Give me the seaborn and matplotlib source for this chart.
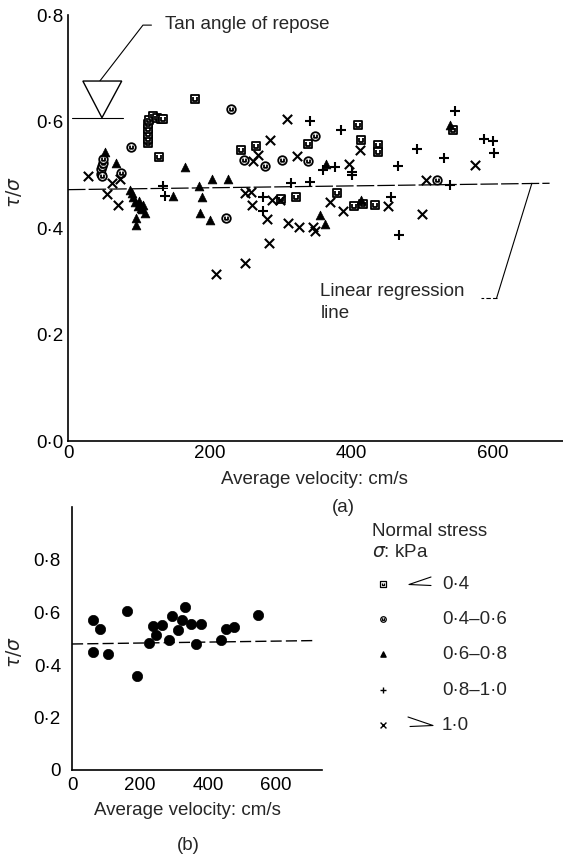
import matplotlib
matplotlib.use("Agg")
import matplotlib.pyplot as plt
import seaborn as sns
import numpy as np
from matplotlib.path import Path

# ---------------- data: panel (a) ----------------
sq_x = [113, 113, 113, 113, 113, 115, 120, 126, 131, 135, 129, 179, 244, 266, 301, 323, 339, 380, 404, 417, 434, 410, 415, 439, 439, 545]
sq_y = [0.560, 0.568, 0.577, 0.586, 0.595, 0.603, 0.610, 0.607, 0.605, 0.604, 0.534, 0.642, 0.547, 0.554, 0.455, 0.459, 0.557, 0.466, 0.441, 0.445, 0.443, 0.593, 0.565, 0.555, 0.542, 0.584]

ci_x = [46, 47, 48, 49, 50, 48, 89, 75, 223, 230, 249, 279, 303, 339, 349, 522]
ci_y = [0.502, 0.510, 0.517, 0.523, 0.529, 0.498, 0.553, 0.504, 0.418, 0.623, 0.528, 0.517, 0.527, 0.526, 0.573, 0.491]

tr_x = [52, 68, 88, 90, 92, 95, 99, 100, 103, 104, 106, 109, 96, 96, 149, 166, 185, 190, 186, 201, 203, 226, 365, 356, 364, 415, 540]
tr_y = [0.543, 0.523, 0.471, 0.465, 0.459, 0.448, 0.441, 0.450, 0.438, 0.436, 0.444, 0.428, 0.419, 0.406, 0.460, 0.515, 0.479, 0.458, 0.428, 0.415, 0.492, 0.492, 0.521, 0.425, 0.407, 0.453, 0.593]

pl_x = [134, 137, 315, 342, 342, 386, 276, 276, 361, 377, 402, 402, 457, 468, 467, 493, 532, 540, 547, 588, 601, 602]
pl_y = [0.479, 0.460, 0.485, 0.487, 0.600, 0.584, 0.458, 0.431, 0.509, 0.514, 0.506, 0.499, 0.459, 0.387, 0.517, 0.548, 0.531, 0.481, 0.620, 0.567, 0.564, 0.540]

xx_x = [28, 62, 73, 55, 70, 209, 251, 284, 250, 259, 260, 262, 269, 285, 288, 300, 282, 311, 327, 347, 349, 310, 324, 371, 389, 397, 413, 453, 501, 506, 575]
xx_y = [0.498, 0.485, 0.492, 0.463, 0.444, 0.313, 0.334, 0.372, 0.465, 0.467, 0.444, 0.526, 0.537, 0.565, 0.453, 0.452, 0.416, 0.410, 0.401, 0.402, 0.394, 0.604, 0.536, 0.448, 0.431, 0.521, 0.546, 0.442, 0.426, 0.491, 0.518]

reg_a_x = [0, 681]
reg_a_y = [0.472, 0.484]
tan_repose = 0.607

# ---------------- data: panel (b) ----------------
b_x = [62, 61, 83, 105, 161, 191, 225, 237, 248, 266, 284, 295, 313, 323, 331, 350, 364, 380, 438, 453, 477, 548]
b_y = [0.571, 0.451, 0.536, 0.442, 0.607, 0.359, 0.483, 0.550, 0.514, 0.552, 0.495, 0.587, 0.533, 0.571, 0.620, 0.555, 0.480, 0.555, 0.495, 0.536, 0.544, 0.590]
reg_b_x = [0, 710]
reg_b_y = [0.480, 0.493]

# ---------------- tick labels / text ----------------
a_xticks = [0, 100, 200, 300, 400, 500, 600, 700]
a_xticklabels = ["0", "", "200", "", "400", "", "600", ""]
a_yticks = [0.0, 0.1, 0.2, 0.3, 0.4, 0.5, 0.6, 0.7, 0.8]
a_yticklabels = ["0·0", "", "0·2", "", "0·4", "", "0·6", "", "0·8"]
b_xticks = [0, 200, 400, 600]
b_xticklabels = ["0", "200", "400", "600"]
b_yticks = [0.0, 0.2, 0.4, 0.6, 0.8, 1.0]
b_yticklabels = ["0", "0·2", "0·4", "0·6", "0·8", ""]
legend_labels = ["0·4", "0·4–0·6", "0·6–0·8", "0·8–1·0", "1·0"]

sns.set_theme(style="white")
plt.rcParams["font.family"] = ["Liberation Sans", "DejaVu Sans"]
plt.rcParams["mathtext.fontset"] = "dejavusans"

# custom markers
sq_path = Path.make_compound_path(
    Path([(-1, -1), (1, -1), (1, 1), (-1, 1), (-1, -1)],
         [Path.MOVETO, Path.LINETO, Path.LINETO, Path.LINETO, Path.CLOSEPOLY]),
    Path([(-0.4, 0.5), (-0.4, -0.35), (0.4, -0.35), (0.4, 0.5)],
         [Path.MOVETO, Path.LINETO, Path.LINETO, Path.LINETO]))
circ = Path.unit_circle()
ci_path = Path.make_compound_path(
    circ,
    Path([(-0.35, 0.45), (-0.35, -0.3), (0.35, -0.3), (0.35, 0.45)],
         [Path.MOVETO, Path.LINETO, Path.LINETO, Path.LINETO]))

W, H = 563, 855
fig = plt.figure(figsize=(W / 100, H / 100), dpi=100)
fig.patch.set_facecolor("white")
ax1 = fig.add_axes([68 / W, 1 - 441 / H, 495 / W, 426 / H])
ax2 = fig.add_axes([72 / W, 1 - 770 / H, 250 / W, 262.5 / H])

FS = 13.5
for ax in (ax1, ax2):
    ax.set_facecolor("white")
    for s in ("top", "right"):
        ax.spines[s].set_visible(False)
    for s in ("left", "bottom"):
        ax.spines[s].set_color("black")
        ax.spines[s].set_linewidth(1.2)
    ax.tick_params(direction="in", length=6, width=1.1, colors="black",
                   labelsize=FS, pad=3)
    ax.grid(False)

# ---- panel (a) ----
ax1.plot(reg_a_x, reg_a_y, color="black", lw=0.9, linestyle=(0, (14, 2.5)), zorder=1)
sns.scatterplot(x=sq_x, y=sq_y, ax=ax1, marker=sq_path, s=40, facecolor="white",
                edgecolor="black", linewidth=1.3, zorder=3)
sns.scatterplot(x=ci_x, y=ci_y, ax=ax1, marker=ci_path, s=38, facecolor="white",
                edgecolor="black", linewidth=1.3, zorder=3)
sns.scatterplot(x=tr_x, y=tr_y, ax=ax1, marker="^", s=40, color="black",
                edgecolor="black", linewidth=0.5, zorder=3)
sns.scatterplot(x=pl_x, y=pl_y, ax=ax1, marker="+", s=55, color="black",
                linewidth=1.5, zorder=3)
sns.scatterplot(x=xx_x, y=xx_y, ax=ax1, marker="x", s=45, color="black",
                linewidth=1.5, zorder=3)

ax1.set_xlim(0, 700)
ax1.set_ylim(0, 0.8)
ax1.set_xticks(a_xticks)
ax1.set_xticklabels(a_xticklabels)
ax1.set_yticks(a_yticks)
ax1.set_yticklabels(a_yticklabels)
ax1.set_xlabel("Average velocity: cm/s", fontsize=FS)
ax1.xaxis.set_label_coords((314 - 68) / 495, (441 - 471) / 426)
ax1.set_ylabel(r"$\tau/\sigma$", fontsize=FS)
ax1.yaxis.set_label_coords((24 - 68) / 495, 0.585)

# tan angle of repose marker
ax1.plot([5, 78], [tan_repose, tan_repose], color="black", lw=0.8)
ax1.fill([21, 76, 48, 21], [0.676, 0.676, tan_repose, 0.676], facecolor="white",
         edgecolor="black", lw=1.0, zorder=4)
ax1.plot([45, 106, 118], [0.676, 0.781, 0.781], color="black", lw=0.8)
ax1.text(137, 0.783, "Tan angle of repose", fontsize=FS, va="center", ha="left")

# regression callout
ax1.plot([656, 606], [0.484, 0.268], color="black", lw=0.8)
ax1.plot([606, 584], [0.268, 0.268], color="black", lw=0.8, linestyle=(0, (4, 2)))
ax1.text(357, 0.280, "Linear regression", fontsize=FS, va="center", ha="left")
ax1.text(357, 0.240, "line", fontsize=FS, va="center", ha="left")

# ---- panel (b) ----
ax2.plot(reg_b_x, reg_b_y, color="black", lw=1.0, linestyle=(0, (8, 3)), zorder=1)
sns.scatterplot(x=b_x, y=b_y, ax=ax2, marker="o", s=55, color="black",
                edgecolor="black", linewidth=0.5, zorder=3)
ax2.set_xlim(0, 735)
ax2.set_ylim(0, 1.0)
ax2.set_xticks(b_xticks)
ax2.set_xticklabels(b_xticklabels)
ax2.set_yticks(b_yticks)
ax2.set_yticklabels(b_yticklabels)
ax2.tick_params(axis="y", pad=8)
ax2.tick_params(axis="x", pad=5)
ax2.set_xlabel("Average velocity: cm/s", fontsize=FS)
ax2.xaxis.set_label_coords((187 - 72) / 250, (770 - 802) / 262.5)
ax2.set_ylabel(r"$\tau/\sigma$", fontsize=FS)
ax2.yaxis.set_label_coords((24 - 72) / 250, 0.45)

# ---- overlay for captions and legend (pixel coordinates) ----
ov = fig.add_axes([0, 0, 1, 1])
ov.set_xlim(0, W)
ov.set_ylim(H, 0)
ov.axis("off")
ov.patch.set_alpha(0)

ov.text(343, 507, "(a)", fontsize=FS, ha="center", va="center")
ov.text(188, 845, "(b)", fontsize=FS, ha="center", va="center")

ov.text(372, 531, "Normal stress", fontsize=FS, ha="left", va="center")
ov.text(372, 552, r"$\sigma$: kPa", fontsize=FS, ha="left", va="center")

rows = [584, 619, 654, 690, 725]
mx = 383
ov.scatter([mx], [rows[0]], marker=sq_path, s=16, facecolor="white", edgecolor="black", linewidth=0.9)
ov.scatter([mx], [rows[1]], marker=ci_path, s=16, facecolor="white", edgecolor="black", linewidth=0.9)
ov.scatter([mx], [rows[2]], marker="^", s=14, color="black")
ov.scatter([mx], [rows[3]], marker="+", s=20, color="black", linewidth=1.0)
ov.scatter([mx], [rows[4]], marker="x", s=18, color="black", linewidth=1.0)
for r, lab in zip(rows, legend_labels):
    ov.text(442, r, lab, fontsize=FS, ha="left", va="center")
# "<" and ">" signs
ov.plot([431, 409, 431], [577, 584.5, 585.5], color="black", lw=0.8)
ov.plot([408, 433, 410], [717, 725.5, 726.5], color="black", lw=0.8)

fig.savefig("out.png", dpi=100, facecolor="white")
